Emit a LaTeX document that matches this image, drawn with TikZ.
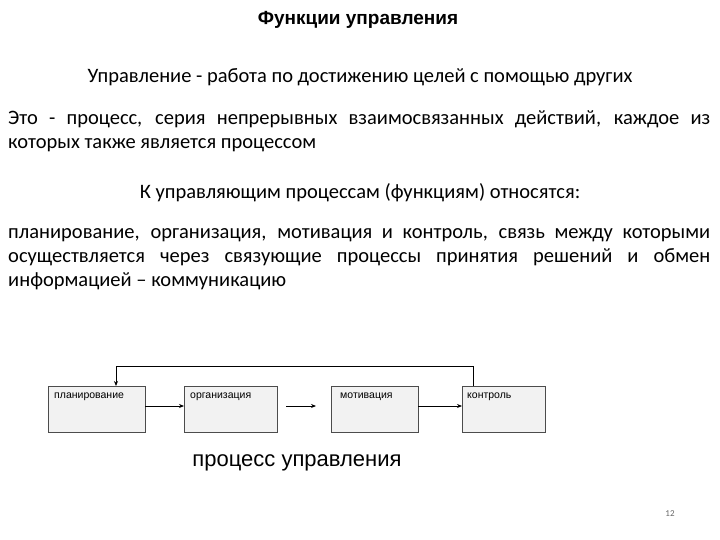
\documentclass[tikz,border=0pt]{standalone}
\usepackage{fontspec}
\setmainfont{Carlito}
\newfontfamily\arial{Liberation Sans}
\usetikzlibrary{arrows.meta}
\begin{document}
\begin{tikzpicture}[x=1pt,y=-1pt,
  box/.style={draw=black!70,fill=black!5,minimum width=#1,minimum height=46pt,inner sep=0pt,anchor=north west},
  lbl/.style={font=\arial\fontsize{10.5}{12}\selectfont,anchor=north west,inner sep=0pt},
  arr/.style={-{Stealth[length=5pt,width=4pt]},line width=1pt},
  txt/.style={inner sep=0pt,font=\fontsize{20.5}{24}\selectfont}]
\useasboundingbox (0,0) rectangle (720,540);
\node[txt,font=\arial\bfseries\fontsize{19}{22}\selectfont] (t) at (358,20) {Функции управления};
\node[txt] (s) at (360,77) {Управление - работа по достижению целей с помощью других};
\node[txt,text width=702pt,align=justify,anchor=north west] (p1) at (8,110) {Это - процесс, серия непрерывных взаимосвязанных действий, каждое из которых также является процессом};
\node[txt] (k) at (360,193) {К управляющим процессам (функциям) относятся:};
\node[txt,text width=702pt,align=justify,anchor=north west] (p2) at (8,228) {планирование, организация, мотивация и контроль, связь между которыми осуществляется через связующие процессы принятия решений и обмен информацией – коммуникацию};
\node[box=97pt] (b1) at (48,386) {};
\node[box=93pt] (b2) at (184,386) {};
\node[box=87pt] (b3) at (331,386) {};
\node[box=83pt] (b4) at (462,386) {};
\node[lbl] at (54,393) {планирование};
\node[lbl] (l2) at (190,393) {организация};
\node[lbl] (l3) at (340,393) {мотивация};
\node[lbl] (l4) at (467,393) {контроль};
\draw[arr] (b1.east |- 0,406) -- (b2.west |- 0,406);
\coordinate (m1) at (286,406); \coordinate (m2) at (316,406);
\draw[arr] (m1) -- (m2);
\draw[arr] (b3.east |- 0,406) -- (b4.west |- 0,406);
\draw[line width=0.6pt] (b4.north west) ++(11,0) coordinate (c1) -- (473,366) -- (116,366);
\draw[arr] (116,366) -- (b1.north west -| 116,0);
\node[font=\arial\fontsize{22}{24}\selectfont,inner sep=0pt] (pu) at (297,463) {процесс управления};
\node[font=\fontsize{9}{10}\selectfont,text=black!60,inner sep=0pt] (n) at (670,514) {12};
\end{tikzpicture}
\end{document}
